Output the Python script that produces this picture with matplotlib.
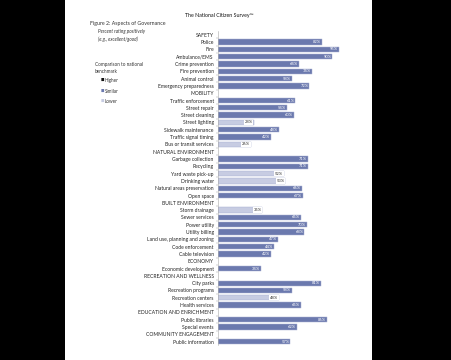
import matplotlib

matplotlib.use("Agg")
from matplotlib import pyplot as plt
from matplotlib.patches import Rectangle

# rows in display order; section headers have no value
categories = [
    "SAFETY", "Police", "Fire", "Ambulance/EMS", "Crime prevention", "Fire prevention",
    "Animal control", "Emergency preparedness",
    "MOBILITY", "Traffic enforcement", "Street repair", "Street cleaning", "Street lighting",
    "Sidewalk maintenance", "Traffic signal timing", "Bus or transit services",
    "NATURAL ENVIRONMENT", "Garbage collection", "Recycling", "Yard waste pick-up",
    "Drinking water", "Natural areas preservation", "Open space",
    "BUILT ENVIRONMENT", "Storm drainage", "Sewer services", "Power utility", "Utility billing",
    "Land use, planning and zoning", "Code enforcement", "Cable television",
    "ECONOMY", "Economic development",
    "RECREATION AND WELLNESS", "City parks", "Recreation programs", "Recreation centers",
    "Health services",
    "EDUCATION AND ENRICHMENT", "Public libraries", "Special events",
    "COMMUNITY ENGAGEMENT", "Public information",
]
values = [
    None, 82, 95, 90, 64, 74, 58, 72,
    None, 61, 54, 60, 28, 48, 42, 26,
    None, 71, 71, 52, 53, 66, 67,
    None, 35, 65, 70, 68, 47, 44, 42,
    None, 34,
    None, 81, 58, 48, 65,
    None, 86, 62,
    None, 57,
]
benchmark = [
    None, "Similar", "Similar", "Similar", "Similar", "Similar", "Similar", "Similar",
    None, "Similar", "Similar", "Similar", "Lower", "Similar", "Similar", "Lower",
    None, "Similar", "Similar", "Lower", "Lower", "Similar", "Similar",
    None, "Lower", "Similar", "Similar", "Similar", "Similar", "Similar", "Similar",
    None, "Similar",
    None, "Similar", "Similar", "Lower", "Similar",
    None, "Similar", "Similar",
    None, "Similar",
]
legend_labels = ["Higher", "Similar", "Lower"]

colors = {"Higher": "#111111", "Similar": "#6b79ae", "Lower": "#c7cce2"}
FONT = ["Lato", "DejaVu Sans"]
W, H = 452, 360

fig = plt.figure(figsize=(W / 100, H / 100), dpi=100, facecolor="black")
# white page on the black background
page = fig.add_axes([65 / W, 0, (372 - 65) / W, 1], zorder=-10)
page.set_facecolor("white")
page.set_axis_off()
page.add_patch(Rectangle((0, 0), 1, 1, transform=page.transAxes, facecolor="white",
                         edgecolor="none"))

n = len(categories)
top, bottom = 31.1, 345.3
ax = fig.add_axes([218 / W, 1 - bottom / H, 127 / W, (bottom - top) / H])
ax.set_facecolor("none")
ax.set_xlim(0, 100)
ax.set_ylim(n - 0.5, -0.5)

for i, (v, b) in enumerate(zip(values, benchmark)):
    if v is None:
        continue
    ax.barh(i, v, height=0.72, color=colors[b], edgecolor="#a9b1d3", linewidth=0.35)
    if b == "Lower":
        ax.text(v - 0.8, i, f"{v}%", ha="right", va="center", fontsize=3, family=FONT,
                color="#333333",
                bbox=dict(boxstyle="square,pad=0.15", fc="white", ec="none"))
    else:
        ax.text(v - 0.8, i, f"{v}%", ha="right", va="center", fontsize=3, family=FONT,
                color="white")

ax.set_yticks(range(n))
ax.set_yticklabels(categories, fontsize=3.6, family=FONT, color="#222222")
ax.set_yticks([i + 0.5 for i in range(n - 1)], minor=True)
ax.tick_params(axis="y", which="major", length=0, pad=3)
ax.tick_params(axis="y", which="minor", length=1.5, width=0.3, color="#999999")
ax.set_xticks([])
for s in ["top", "right", "bottom"]:
    ax.spines[s].set_visible(False)
ax.spines["left"].set_color("#aaaaaa")
ax.spines["left"].set_linewidth(0.4)

fig.text(219 / W, 1 - 15 / H, "The National Citizen Survey\u2122", ha="center", va="center",
         fontsize=3.8, family=FONT, color="#111111")
fig.text(90 / W, 1 - 24 / H, "Figure 2: Aspects of Governance", ha="left", va="center",
         fontsize=3.8, family=FONT, color="#333333")
fig.text(98 / W, 1 - 35.5 / H, "Percent rating positively\n(e.g., excellent/good)", ha="left",
         va="center", fontsize=3.3, family=FONT, style="italic", color="#333333",
         linespacing=1.4)
fig.text(95 / W, 1 - 68 / H, "Comparison to national\nbenchmark", ha="left", va="center",
         fontsize=3.3, family=FONT, color="#333333", linespacing=1.4)
for k, lab in enumerate(legend_labels):
    y = 1 - (80.7 + k * 10.5) / H
    fig.text(100.5 / W, y + 0.7 / H, "\u25a0", ha="left", va="center", fontsize=2.6,
             family=["DejaVu Sans"], color=colors[lab])
    fig.text(105 / W, y, lab, ha="left", va="center", fontsize=3.3, family=FONT,
             color="#333333")

fig.savefig("out.png", dpi=100, facecolor="black")
